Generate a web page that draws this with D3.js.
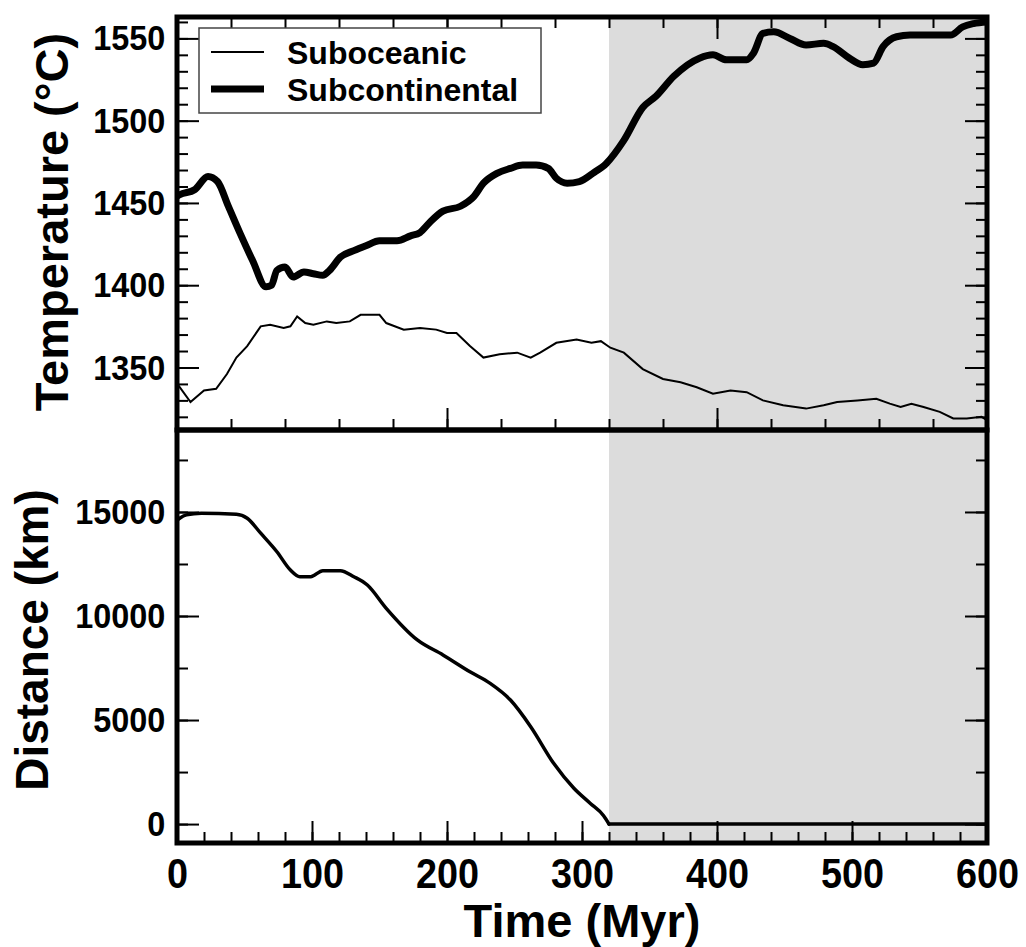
<!DOCTYPE html>
<html>
<head>
<meta charset="utf-8">
<script src="https://cdn.jsdelivr.net/npm/d3@7"></script>
<style>
  body { margin: 0; background: #fff; }
  svg text { font-family: "Liberation Sans", Arial, sans-serif; font-weight: bold; fill: #000; }
</style>
</head>
<body>
<svg id="chart"></svg>
<script>
const width = 1026;
const height = 947;

// values: [time (Myr), value]
const subcontinental = [
  [0, 1454], [2, 1455], [13, 1458], [23, 1466], [30, 1463], [38, 1448], [47, 1431], [56, 1415],
  [66, 1399], [70, 1400], [74, 1409], [80, 1411], [86, 1405], [94, 1408], [101, 1407], [108, 1406],
  [113, 1409], [121, 1417], [131, 1421], [140, 1424], [150, 1427], [163, 1427], [173, 1430], [180, 1432],
  [187, 1438], [197, 1445], [210, 1448], [220, 1454], [227, 1462], [237, 1468], [247, 1471], [256, 1473],
  [266, 1473], [275, 1471], [281, 1465], [289, 1462], [298, 1463], [308, 1468], [318, 1474], [331, 1488],
  [345, 1508], [355, 1515], [368, 1527], [387, 1538], [397, 1540], [407, 1537], [422, 1537], [427, 1541],
  [434, 1553], [442, 1554], [454, 1550], [466, 1546], [479, 1547], [486, 1545], [498, 1538], [508, 1534],
  [516, 1535], [523, 1545], [533, 1551], [543, 1552], [573, 1552], [582, 1557], [590, 1559], [600, 1560]
];

const suboceanic = [
  [0, 1340], [2, 1338], [10, 1329], [20, 1336], [29, 1337], [37, 1346], [44, 1356], [52, 1363],
  [62, 1375], [69, 1376], [79, 1374], [84, 1375], [89, 1381], [95, 1377], [101, 1376], [111, 1378],
  [118, 1377], [128, 1378], [136, 1382], [150, 1382], [155, 1377], [168, 1373], [180, 1374], [192, 1373],
  [200, 1371], [207, 1371], [217, 1363], [227, 1356], [239, 1358], [252, 1359], [262, 1356], [269, 1359],
  [281, 1365], [296, 1367], [307, 1365], [314, 1366], [321, 1362], [331, 1359], [345, 1349], [360, 1343],
  [373, 1341], [385, 1338], [397, 1334], [410, 1336], [422, 1335], [434, 1330], [449, 1327], [466, 1325],
  [479, 1327], [489, 1329], [504, 1330], [518, 1331], [528, 1328], [536, 1326], [544, 1328], [553, 1326],
  [565, 1323], [575, 1319], [585, 1319], [596, 1320], [600, 1318]
];

// distance before the collision, then the flat part after it
const distance = [
  [0, 14600], [2, 14700], [7, 14860], [18, 14940], [44, 14890], [52, 14700], [62, 13980], [74, 13090],
  [84, 12210], [91, 11890], [99, 11890], [108, 12180], [121, 12180], [131, 11890], [141, 11490], [155, 10370],
  [178, 8850], [197, 8130], [217, 7320], [232, 6760], [247, 5960], [262, 4680], [279, 2920], [294, 1720],
  [306, 1000], [316, 400], [320, 0]
];
const distanceAfter = [[320, 0], [600, 0]];

const shadeStart = 320;

const timeTicks = [0, 100, 200, 300, 400, 500, 600];
const timeMinor = d3.range(0, 601, 20);
const topTimeTicks = [0, 200, 400, 600];
const topTimeMinor = d3.range(0, 601, 40);
const tempTicks = [1350, 1400, 1450, 1500, 1550];
const tempMinor = d3.range(1320, 1561, 10);
const distTicks = [0, 5000, 10000, 15000];
const distMinor = d3.range(0, 17501, 2500);

const svg = d3.select("#chart").attr("width", width).attr("height", height);

const left = 177, right = 987, top1 = 17, mid = 430, bottom2 = 843;

const x = d3.scaleLinear().domain([0, 600]).range([left, right]);
const yT = d3.scaleLinear().domain([1312, 1563]).range([mid, top1]);
const yD = d3.scaleLinear().domain([-910, 18940]).range([bottom2, mid]);

svg.append("rect").attr("width", width).attr("height", height).attr("fill", "#fff");

// grey period after the collision
svg.append("rect")
  .attr("x", x(shadeStart)).attr("y", top1)
  .attr("width", x(600) - x(shadeStart)).attr("height", bottom2 - top1)
  .attr("fill", "#dcdcdc");

function addAxis(axisFn, scale, values, size, tx, ty, opts) {
  opts = opts || {};
  const a = axisFn(scale).tickValues(values).tickSize(-size)
    .tickPadding(opts.pad || 3)
    .tickFormat(opts.labels ? d3.format("d") : "");
  const g = svg.append("g").attr("transform", `translate(${tx},${ty})`).call(a);
  g.select(".domain").remove();
  g.selectAll(".tick line").attr("stroke", "#000").attr("stroke-width", 2);
  if (opts.labels) {
    g.selectAll(".tick text")
      .attr("fill", "#000")
      .style("font-size", opts.fs + "px")
      .attr("transform", "scale(0.9,1)");
  }
  return g;
}

// top panel
addAxis(d3.axisLeft, yT, tempMinor, 11, left, 0);
addAxis(d3.axisLeft, yT, tempTicks, 22, left, 0, { labels: true, pad: 13, fs: 36 });
addAxis(d3.axisRight, yT, tempMinor, 11, right, 0);
addAxis(d3.axisRight, yT, tempTicks, 22, right, 0);
addAxis(d3.axisTop, x, topTimeMinor, 11, 0, top1);
addAxis(d3.axisTop, x, topTimeTicks, 22, 0, top1);
addAxis(d3.axisBottom, x, topTimeMinor, 11, 0, mid);
addAxis(d3.axisBottom, x, topTimeTicks, 22, 0, mid);

// bottom panel
addAxis(d3.axisLeft, yD, distMinor, 11, left, 0);
addAxis(d3.axisLeft, yD, distTicks, 22, left, 0, { labels: true, pad: 13, fs: 36 });
addAxis(d3.axisRight, yD, distMinor, 11, right, 0);
addAxis(d3.axisRight, yD, distTicks, 22, right, 0);
addAxis(d3.axisBottom, x, timeMinor, 11, 0, bottom2);
addAxis(d3.axisBottom, x, timeTicks, 22, 0, bottom2, { labels: true, pad: 15, fs: 42 });

const lineT = d3.line().x(d => x(d[0])).y(d => yT(d[1]));
const lineD = d3.line().x(d => x(d[0])).y(d => yD(d[1])).curve(d3.curveMonotoneX);

svg.append("path").datum(suboceanic)
  .attr("d", lineT)
  .attr("fill", "none").attr("stroke", "#000").attr("stroke-width", 2);

svg.append("path").datum(subcontinental)
  .attr("d", lineT.curve(d3.curveMonotoneX))
  .attr("fill", "none").attr("stroke", "#000").attr("stroke-width", 7)
  .attr("stroke-linejoin", "round");

[distance, distanceAfter].forEach(function (part) {
  svg.append("path").datum(part)
    .attr("d", lineD)
    .attr("fill", "none").attr("stroke", "#000").attr("stroke-width", 3.5)
    .attr("stroke-linecap", "round");
});

// frames
[[top1, mid], [mid, bottom2]].forEach(function (p) {
  svg.append("rect")
    .attr("x", left).attr("y", p[0])
    .attr("width", right - left).attr("height", p[1] - p[0])
    .attr("fill", "none").attr("stroke", "#000").attr("stroke-width", 5);
});

// legend
const legend = svg.append("g");
legend.append("rect")
  .attr("x", 199).attr("y", 28).attr("width", 342).attr("height", 85)
  .attr("fill", "#fff").attr("stroke", "#444").attr("stroke-width", 1.5);
const legendItems = [
  { name: "Suboceanic", w: 2, y: 52 },
  { name: "Subcontinental", w: 7, y: 89 }
];
legendItems.forEach(function (d) {
  legend.append("line")
    .attr("x1", 211).attr("x2", 264).attr("y1", d.y).attr("y2", d.y)
    .attr("stroke", "#000").attr("stroke-width", d.w);
  legend.append("text")
    .attr("x", 287).attr("y", d.y + 12)
    .style("font-size", "32px")
    .text(d.name);
});

// axis titles
svg.append("text")
  .attr("transform", "translate(68,222) rotate(-90)")
  .attr("text-anchor", "middle")
  .style("font-size", "47px")
  .text("Temperature (°C)");

svg.append("text")
  .attr("transform", "translate(48,640) rotate(-90)")
  .attr("text-anchor", "middle")
  .style("font-size", "46px")
  .text("Distance (km)");

svg.append("text")
  .attr("x", (left + right) / 2).attr("y", 937)
  .attr("text-anchor", "middle")
  .style("font-size", "47px")
  .text("Time (Myr)");
</script>
</body>
</html>
